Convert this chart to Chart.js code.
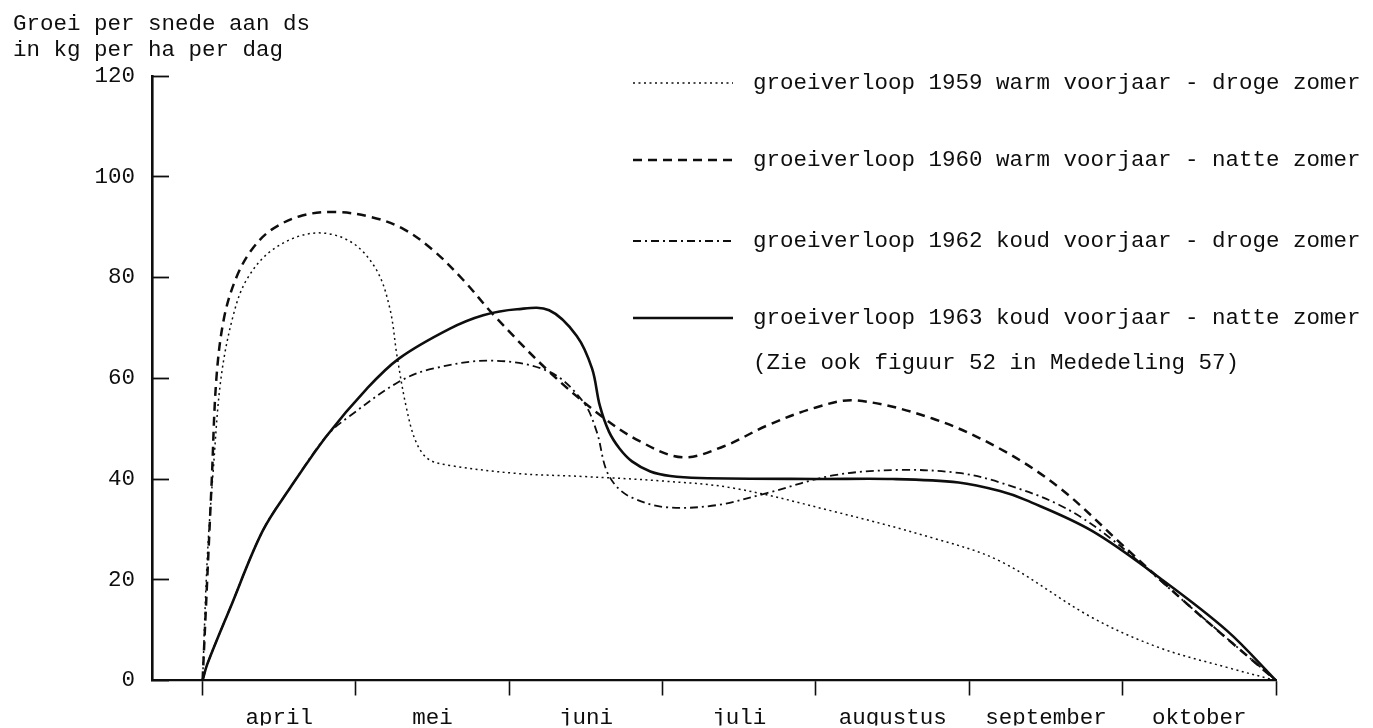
<!DOCTYPE html>
<html>
<head>
<meta charset="utf-8">
<script src="https://cdn.jsdelivr.net/npm/chart.js@4"></script>
<style>
  body { margin: 0; background: #fff; }
  canvas { display: block; }
</style>
</head>
<body>
<canvas id="groeiChart" width="1373" height="728"></canvas>
<script>
// maanden (april = 0 .. eind oktober = 7)
const months = ['april', 'mei', 'juni', 'juli', 'augustus', 'september', 'oktober'];
const yTicks = [0, 20, 40, 60, 80, 100, 120];

// groeiverloop 1959 (gestippeld)
const g1959X = [0, 0.03, 0.07, 0.12, 0.2, 0.29, 0.46, 0.72, 0.96, 1.13, 1.22, 1.27, 1.33, 1.39, 1.47, 1.61, 2.05, 2.48, 3.0, 3.46, 4.11, 4.76, 5.2, 5.8, 6.24, 6.68, 7];
const g1959Y = [0, 24, 42, 60, 72.5, 79.7, 85.6, 88.8, 87.2, 81.7, 74, 64, 54, 47.5, 44, 42.7, 41.1, 40.5, 39.6, 38.2, 33.6, 28.3, 23.7, 12.5, 6.5, 2.6, 0];

// groeiverloop 1960 (gestreept)
const g1960X = [0, 0.03, 0.06, 0.09, 0.14, 0.22, 0.32, 0.45, 0.65, 0.87, 1.1, 1.3, 1.5, 1.7, 1.9, 2.26, 2.6, 2.85, 3.13, 3.4, 3.68, 4.0, 4.26, 4.76, 5.2, 5.59, 6.02, 6.45, 7];
const g1960Y = [0, 20, 40, 60, 72, 80, 85.5, 89.5, 92.3, 93, 92, 89.8, 85.5, 79.5, 72.5, 61.3, 52.5, 47.5, 44.3, 46.5, 50.6, 54.2, 55.6, 52, 46, 38.2, 26.3, 14.4, 0];

// groeiverloop 1962 (streep-punt)
const g1962X = [0, 0.03, 0.18, 0.39, 0.57, 0.81, 0.96, 1.28, 1.5, 1.89, 2.26, 2.48, 2.57, 2.63, 2.7, 2.8, 3.02, 3.35, 3.68, 4.11, 4.54, 4.93, 5.2, 5.59, 5.91, 6.45, 7];
const g1962Y = [0, 3.2, 14.4, 29.6, 38.2, 48.6, 52.5, 59.3, 61.9, 63.5, 61.3, 55.4, 49.4, 42, 38.5, 36.3, 34.4, 34.8, 37.2, 40.7, 41.8, 41.2, 39.3, 34.8, 28.5, 14.4, 0];

// groeiverloop 1963 (doorgetrokken)
const g1963X = [0, 0.03, 0.18, 0.39, 0.57, 0.81, 1.07, 1.28, 1.61, 1.83, 2.05, 2.26, 2.44, 2.54, 2.59, 2.65, 2.72, 2.8, 2.92, 3.05, 3.24, 4.0, 4.5, 4.93, 5.2, 5.37, 5.8, 6.24, 6.68, 7];
const g1963Y = [0, 3.2, 14.4, 29.6, 38.2, 48.6, 57.9, 63.9, 69.8, 72.5, 73.7, 73.5, 68.4, 61.9, 54.6, 49.4, 46, 43.5, 41.5, 40.6, 40.2, 40, 40, 39.3, 37.6, 35.8, 29.7, 20.4, 9.9, 0];

const labels = [
  'groeiverloop 1959 warm voorjaar - droge zomer',
  'groeiverloop 1960 warm voorjaar - natte zomer',
  'groeiverloop 1962 koud voorjaar - droge zomer',
  'groeiverloop 1963 koud voorjaar - natte zomer'
];
const note = '(Zie ook figuur 52 in Mededeling 57)';
const yTitle = ['Groei per snede aan ds', 'in kg per ha per dag'];

const ink = '#0e0e0e';
const fontFamily = '"Liberation Mono", "DejaVu Sans Mono", monospace';

function toPoints(xs, ys) {
  return xs.map((x, i) => ({ x: x, y: ys[i] }));
}

// header en legenda, zoals in het origineel met de hand geplaatst
const annotations = {
  id: 'annotations',
  afterDraw(chart) {
    const ctx = chart.ctx;
    ctx.save();
    ctx.fillStyle = ink;
    ctx.font = '22.5px ' + fontFamily;
    ctx.textBaseline = 'middle';
    ctx.textAlign = 'left';
    ctx.fillText(yTitle[0], 13, 24);
    ctx.fillText(yTitle[1], 13, 50);

    const rows = [83, 160, 241, 318];
    chart.data.datasets.forEach((ds, i) => {
      const y = rows[i];
      ctx.strokeStyle = ink;
      ctx.lineWidth = ds.borderWidth;
      ctx.setLineDash(ds.borderDash || []);
      ctx.beginPath();
      ctx.moveTo(633, y);
      ctx.lineTo(733, y);
      ctx.stroke();
      ctx.setLineDash([]);
      ctx.fillText(ds.label, 753, y);
    });
    ctx.fillText(note, 753, 363);
    ctx.restore();
  }
};

const ctx = document.getElementById('groeiChart').getContext('2d');
Chart.defaults.font.family = fontFamily;
Chart.defaults.font.size = 22.5;
Chart.defaults.color = ink;

const lineBase = {
  borderColor: ink,
  backgroundColor: ink,
  pointRadius: 0,
  fill: false,
  tension: 0.35
};

new Chart(ctx, {
  type: 'line',
  data: {
    datasets: [
      Object.assign({}, lineBase, { label: labels[0], data: toPoints(g1959X, g1959Y), borderWidth: 1.5, borderDash: [2, 3.5] }),
      Object.assign({}, lineBase, { label: labels[1], data: toPoints(g1960X, g1960Y), borderWidth: 2.5, borderDash: [9, 6] }),
      Object.assign({}, lineBase, { label: labels[2], data: toPoints(g1962X, g1962Y), borderWidth: 1.8, borderDash: [8, 4, 2, 4] }),
      Object.assign({}, lineBase, { label: labels[3], data: toPoints(g1963X, g1963Y), borderWidth: 2.6 })
    ]
  },
  options: {
    responsive: false,
    animation: false,
    layout: { padding: { top: 76, right: 97, bottom: 0, left: 0 } },
    plugins: {
      legend: { display: false },
      tooltip: { enabled: false }
    },
    scales: {
      x: {
        type: 'linear',
        min: -0.33,
        max: 7,
        afterFit(scale) { scale.height = 45; },
        afterBuildTicks(scale) {
          const t = [];
          for (let i = 0; i <= months.length * 2; i++) t.push({ value: i / 2 });
          scale.ticks = t;
        },
        ticks: {
          autoSkip: false,
          maxRotation: 0,
          padding: 9,
          callback: (v) => {
            const i = Math.floor(v);
            return (v - i) === 0.5 ? months[i] : '';
          }
        },
        grid: {
          drawOnChartArea: false,
          tickLength: 15,
          tickWidth: 1.6,
          tickColor: (c) => (c.tick && c.tick.value % 1 === 0 ? ink : 'rgba(0,0,0,0)')
        },
        border: { display: true, color: ink, width: 2.2 }
      },
      y: {
        min: 0,
        max: 120,
        afterFit(scale) { scale.width = 152; },
        afterBuildTicks(scale) {
          scale.ticks = yTicks.map(v => ({ value: v }));
        },
        ticks: { padding: 34 },
        grid: {
          drawOnChartArea: false,
          tickLength: -17,
          tickWidth: 1.8,
          tickColor: ink
        },
        border: { display: true, color: ink, width: 2.6 }
      }
    }
  },
  plugins: [annotations]
});
</script>
</body>
</html>
